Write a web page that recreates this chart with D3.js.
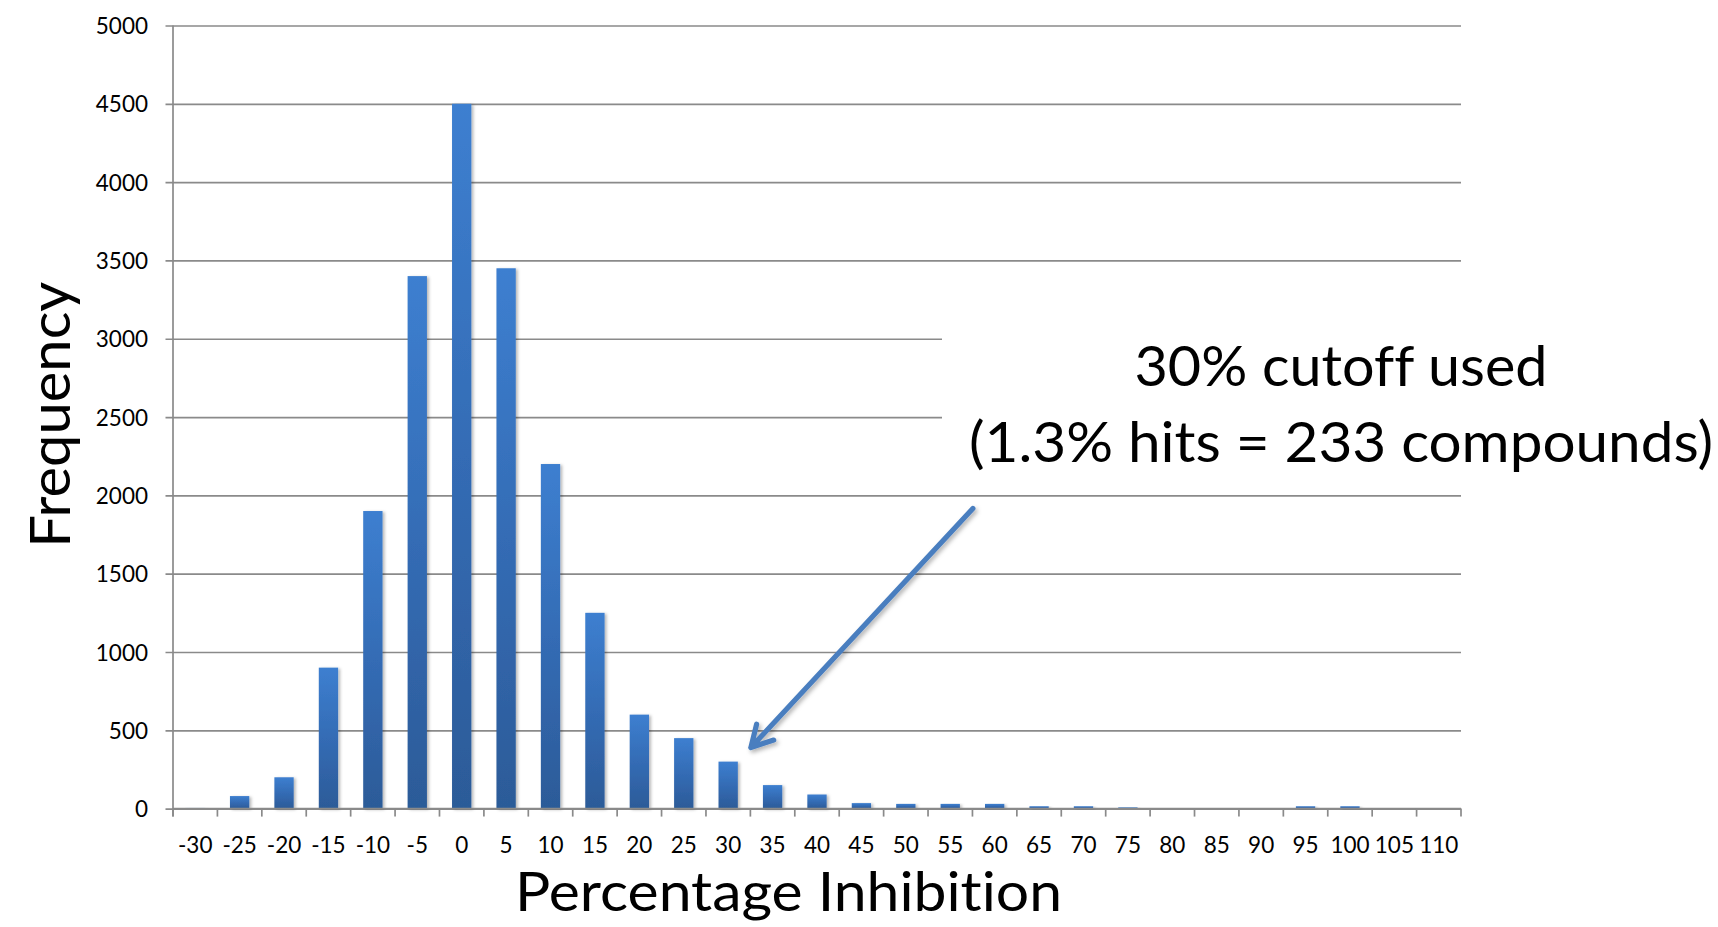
<!DOCTYPE html>
<html>
<head>
<meta charset="utf-8">
<script src="https://cdn.jsdelivr.net/npm/d3@7"></script>
<style>
  html, body { margin: 0; padding: 0; background: #ffffff; }
  svg { display: block; }
  text { font-family: Lato, "Open Sans", sans-serif; fill: #000;
         font-variant-ligatures: none; font-feature-settings: "liga" 0, "clig" 0; }
</style>
</head>
<body>
<svg id="chart" width="1718" height="927"></svg>
<script>
// Inhibition bins (percent) and the number of compounds in each bin
const categories = ["-30", "-25", "-20", "-15", "-10", "-5", "0", "5", "10", "15", "20",
  "25", "30", "35", "40", "45", "50", "55", "60", "65", "70", "75", "80", "85", "90",
  "95", "100", "105", "110"];
const frequency = [4, 80, 200, 900, 1900, 3400, 4500, 3450, 2200, 1250, 600,
  450, 300, 150, 90, 35, 30, 30, 30, 15, 15, 8, 3, 3, 3,
  15, 15, 3, 3];
const yTicks = [0, 500, 1000, 1500, 2000, 2500, 3000, 3500, 4000, 4500, 5000];
const yMax = 5000;

const xTitle = "Percentage Inhibition";
const yTitle = "Frequency";
const noteLines = ["30% cutoff used", "(1.3% hits = 233 compounds)"];
const cutoffBin = "30";
const arrowTipValue = 390;

const svg = d3.select("#chart");
const plot = { left: 173, right: 1461, top: 25.5, bottom: 808.6 };
const gridColor = "#8a8a8a";

const x = d3.scaleBand()
  .domain(categories)
  .range([plot.left, plot.right])
  .paddingInner(0.565)
  .paddingOuter(0.2825);

const y = d3.scaleLinear()
  .domain([0, yMax])
  .range([plot.bottom, plot.top]);

// defs: bar gradient and soft shadows
const defs = svg.append("defs");
const grad = defs.append("linearGradient")
  .attr("id", "barGrad").attr("x1", 0).attr("y1", 0).attr("x2", 0).attr("y2", 1);
grad.append("stop").attr("offset", "0%").attr("stop-color", "#3d7fd0");
grad.append("stop").attr("offset", "55%").attr("stop-color", "#336ab2");
grad.append("stop").attr("offset", "100%").attr("stop-color", "#2c5b98");

const barShadow = defs.append("filter").attr("id", "barShadow")
  .attr("x", "-50%").attr("y", "-10%").attr("width", "200%").attr("height", "130%");
barShadow.append("feDropShadow").attr("dx", 2).attr("dy", 1)
  .attr("stdDeviation", 1.5).attr("flood-color", "#000").attr("flood-opacity", 0.28);

const arrowShadow = defs.append("filter").attr("id", "arrowShadow")
  .attr("x", "-20%").attr("y", "-20%").attr("width", "140%").attr("height", "140%");
arrowShadow.append("feDropShadow").attr("dx", 2).attr("dy", 2.5)
  .attr("stdDeviation", 2).attr("flood-color", "#000").attr("flood-opacity", 0.3);

// horizontal gridlines, extended left to form the y-axis ticks
const yAxis = d3.axisLeft(y)
  .tickValues(yTicks)
  .tickSize(-(plot.right - plot.left))
  .tickSizeOuter(0)
  .tickPadding(18)
  .tickFormat(d3.format("d"));

const gy = svg.append("g")
  .attr("transform", `translate(${plot.left},0)`)
  .call(yAxis);
gy.select(".domain").remove();
gy.selectAll(".tick line")
  .attr("x1", -7.5)
  .attr("stroke", gridColor)
  .attr("stroke-width", 1.7);
gy.selectAll(".tick text")
  .attr("x", -25)
  .attr("dy", "0.36em")
  .style("font-size", "22.5px")
  .style("fill", "#000");

// vertical axis line
svg.append("line")
  .attr("x1", plot.left).attr("x2", plot.left)
  .attr("y1", plot.top).attr("y2", plot.bottom + 8)
  .attr("stroke", gridColor).attr("stroke-width", 1.7);

// white text box behind the note, covering the gridlines there
svg.append("rect")
  .attr("x", 942).attr("y", 280)
  .attr("width", 1718 - 942).attr("height", 195)
  .attr("fill", "#ffffff");

// bars
svg.append("g")
  .selectAll("rect")
  .data(categories.map((c, i) => ({ c, v: frequency[i] })))
  .join("rect")
  .attr("x", d => x(d.c))
  .attr("y", d => y(d.v))
  .attr("width", x.bandwidth())
  .attr("height", d => y(0) - y(d.v))
  .attr("fill", "url(#barGrad)")
  .attr("filter", "url(#barShadow)");

// x axis baseline and ticks at band boundaries
const gx = svg.append("g");
gx.append("line")
  .attr("x1", plot.left).attr("x2", plot.right)
  .attr("y1", y(0)).attr("y2", y(0))
  .attr("stroke", gridColor).attr("stroke-width", 1.7);
const step = x.step();
gx.selectAll("line.tk")
  .data(d3.range(categories.length + 1))
  .join("line")
  .attr("class", "tk")
  .attr("x1", i => plot.left + i * step)
  .attr("x2", i => plot.left + i * step)
  .attr("y1", y(0)).attr("y2", y(0) + 8)
  .attr("stroke", gridColor).attr("stroke-width", 1.7);
gx.selectAll("text")
  .data(categories)
  .join("text")
  .attr("x", d => x(d) + x.bandwidth() / 2)
  .attr("y", 852.5)
  .attr("text-anchor", "middle")
  .style("font-size", "22.5px")
  .text(d => d);

// axis titles
svg.append("text")
  .attr("transform", "translate(70,414.8) rotate(-90)")
  .attr("text-anchor", "middle")
  .attr("textLength", 266)
  .attr("lengthAdjust", "spacingAndGlyphs")
  .style("font-size", "56px")
  .text(yTitle);

svg.append("text")
  .attr("x", 788.5)
  .attr("y", 911)
  .attr("text-anchor", "middle")
  .attr("textLength", 547)
  .attr("lengthAdjust", "spacingAndGlyphs")
  .style("font-size", "54.5px")
  .text(xTitle);

// note text
const noteBaselines = [385.7, 462.4];
const noteLengths = [413, 744];
noteLines.forEach((t, i) => {
  svg.append("text")
    .attr("x", 1341)
    .attr("y", noteBaselines[i])
    .attr("text-anchor", "middle")
    .attr("textLength", noteLengths[i])
    .attr("lengthAdjust", "spacingAndGlyphs")
    .style("font-size", "56.5px")
    .text(t);
});

// arrow pointing at the cutoff bin
const tip = [x(cutoffBin) + step - (step - x.bandwidth()) / 2 + 0.5, y(arrowTipValue)];
const tail = [tip[0] + 222, tip[1] - 239];
const ang = Math.atan2(tail[1] - tip[1], tail[0] - tip[0]);
const headLen = 24, headSpread = Math.PI / 6.2;
const h1 = [tip[0] + headLen * Math.cos(ang - headSpread), tip[1] + headLen * Math.sin(ang - headSpread)];
const h2 = [tip[0] + headLen * Math.cos(ang + headSpread), tip[1] + headLen * Math.sin(ang + headSpread)];
const arrow = svg.append("g").attr("filter", "url(#arrowShadow)");
arrow.append("path")
  .attr("d", `M${tail[0]},${tail[1]}L${tip[0]},${tip[1]}M${h1[0]},${h1[1]}L${tip[0]},${tip[1]}L${h2[0]},${h2[1]}`)
  .attr("fill", "none")
  .attr("stroke", "#4a7ebf")
  .attr("stroke-width", 5.2)
  .attr("stroke-linecap", "round")
  .attr("stroke-linejoin", "round");
</script>
</body>
</html>
